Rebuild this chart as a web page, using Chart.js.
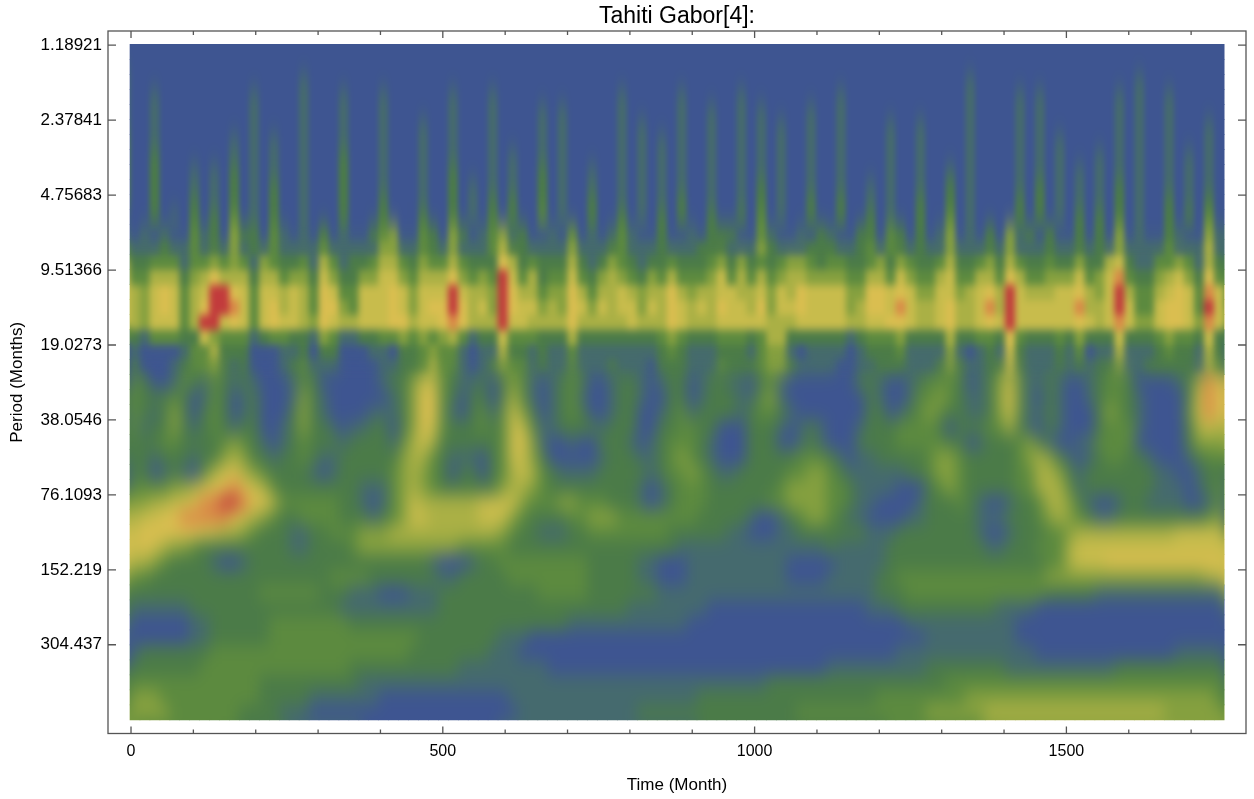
<!DOCTYPE html>
<html>
<head>
<meta charset="utf-8">
<title>Tahiti Gabor[4]</title>
<script src="https://cdn.jsdelivr.net/npm/chart.js@4"></script>
<style>
  html, body { margin: 0; padding: 0; background: #fff; }
  #wrap { width: 1254px; height: 799px; }
  #blurDefs { position: absolute; width: 0; height: 0; }
</style>
</head>
<body>
<svg id="blurDefs">
  <filter id="fineBlur" x="0" y="0" width="100%" height="100%" filterUnits="userSpaceOnUse" color-interpolation-filters="sRGB"><feGaussianBlur stdDeviation="3 4.5"/></filter>
  <filter id="coarseBlur" x="0" y="0" width="100%" height="100%" filterUnits="userSpaceOnUse" color-interpolation-filters="sRGB"><feGaussianBlur stdDeviation="7 9"/></filter>
  <filter id="spikeBlur" x="0" y="0" width="100%" height="100%" filterUnits="userSpaceOnUse" color-interpolation-filters="sRGB"><feGaussianBlur stdDeviation="2.5 11"/></filter>
</svg>
<div id="wrap"><canvas id="myChart" width="1254" height="799"></canvas></div>
<script>
var chartTitle = "Tahiti Gabor[4]:";
var xTitle = "Time (Month)";
var yTitle = "Period (Months)";

var timeTicks = [0, 500, 1000, 1500];
var timeMinorTicks = [100, 200, 300, 400, 600, 700, 800, 900, 1100, 1200, 1300, 1400, 1600, 1700];
var periodTicks = [1.18921, 2.37841, 4.75683, 9.51366, 19.0273, 38.0546, 76.1093, 152.219, 304.437];

// colour levels of the scalogram, low to high
var levelColors = ["#3E5591", "#456A6E", "#4B7B48", "#5C8A3F", "#85A03F", "#AAB045", "#C8BC4C", "#DABE50", "#D98A47", "#C23B3C"];

// power level, one string per period row (top to bottom),
// one digit per time column, grouped by ten
var powerRows = [
  "0000000000 0000000000 0000000000 0000000000 0000000000 0000000000 0000000000 0000000000 0000000000 0000000000 0000000000",
  "0000000000 0000000000 0000000000 0000000000 0000000000 0000000000 0000000000 0000000000 0000000000 0000000000 0000000000",
  "0000000000 0000000100 0000000000 0000000000 0000000000 0000000000 0000000000 0000000000 0000100000 0000000000 0100000000",
  "0010000000 0010000100 0100010000 0010001000 0000000001 0000010000 0100000000 0100000000 0000100001 0100000001 0100100000",
  "0010000000 0010000100 0100010000 0010001000 0101000001 0000010010 0101000010 0100000000 0000100001 0100000001 0100100000",
  "0010000000 0010000100 0100010001 0010001000 0101000001 0100010010 0101010010 0100001001 0000100001 0100000001 0100100010",
  "0010000000 1010100100 0100010001 0010001000 0101000001 0101010010 0101010010 0100001001 0000100001 0101000001 0100100010",
  "0020000000 1010100100 0200010001 0010001010 0101000001 0101010010 0101010010 0100001001 0000100001 0101000101 0100101010",
  "0020001010 2010100100 0200010001 0020001010 0201001001 0101010010 0101010010 0100001001 0010100001 0101010101 0100101010",
  "0020001010 2010200100 0200010001 0020101010 0201001001 0101010010 0102010010 0100101001 0020100001 0201010102 0100101010",
  "0020002010 2010200100 0200020001 0020102020 0201002001 0101020010 0102010020 0200101002 0020100002 0201010102 0100201020",
  "0020102020 3010200100 0200020002 0020102020 0301002002 0102020020 0203010020 0200201002 0030100002 0201020202 0100202030",
  "0101003120 4220310102 0100234003 2042013412 0010301013 1002001022 2003100102 1002203202 0140102041 2020020204 0100210041",
  "1112113121 4121311113 1111144113 2141113522 1111411123 1112111222 1114211122 2112313212 1141112141 1121121214 1111311151",
  "2233313343 4314322315 3122355324 3353222752 3222521243 2122322234 2423234432 3322342432 2352234253 2232242256 2113343152",
  "3355524575 5525534426 4224466435 5574343963 5233632454 3243533346 3535345544 4433553643 3563355375 3344463468 3224564273",
  "5467635699 7636656537 6336667646 6696554975 5344753556 5455754556 6556465766 6644776764 4664567596 5556675469 5335676386",
  "5467635799 8636756537 7436667646 7797564976 6454764656 6465765657 6657466766 6645776865 5675568596 6666685569 6336776396",
  "5466635996 7636766547 6556667756 6787555966 5555755555 6555765556 6666555666 6655667765 5675567696 6666676568 6446776486",
  "2133322643 3312332214 3112233434 3453122633 3222522222 2223432223 3323552222 2212333422 2252233273 2223242226 2223433262",
  "1000013352 2200011202 2000110223 4331011522 1211311111 1112321112 2213441011 1101222311 1141012162 1112130115 1112322152",
  "2000123342 1200012311 1000011223 5331012433 1211311121 1102221113 2223442111 1001122211 1242112262 1112121224 1122222153",
  "3200132132 1210001320 0000012246 6321120243 1012320012 2101220122 1102310000 0002210012 3332012463 1121001233 2000012587",
  "3222320132 0120001421 0000001247 7320220253 1012310012 2100220122 2113410000 0000210013 3432112473 1021001233 2100002687",
  "3212420232 0120002421 0000111247 7310231364 2012320012 2001231222 2123321000 0000220123 4322112463 1121000243 2100003687",
  "3122421232 1220012422 1011220247 6322232366 3112222122 2002233220 0022210121 0001222333 3202223352 1021000233 3100002565",
  "2223322223 4321012322 2122221356 5222222367 4100100222 1012333210 0022200121 0002222333 3322012223 4210011333 3000002444",
  "2212221224 5422122321 1222222455 3211102366 4200000122 2112343210 0022222333 2101122222 3443222223 4542101233 2210001233",
  "2201210356 7543222210 1222223454 3202202356 5321111222 2212334321 1222223344 3211111122 3443222223 3554212222 2221100122",
  "3333445677 8765322222 2221113454 3222222455 4322222222 2101233322 2222234444 3321111000 2343222223 3555312222 2221110123",
  "4455667889 9877533333 3221013465 5555566664 3334433322 2101233322 2222334444 3321100001 2223210012 2355421001 2211110013",
  "5667788888 7654322333 3222123466 5555566643 2222334443 3333333222 2210012344 3211000011 2222211122 2345432112 2222222234",
  "6777777665 5432221122 3334445555 5555555432 2111223333 3333222222 1100011222 2222111222 2222210012 2233455555 5555566666",
  "6765443222 2222221122 2234444444 4443333322 2222222222 2222211111 1111111111 2111112222 2222221122 2333566666 6666666666",
  "5543222210 0122222222 2222222222 1000122333 3333332222 2110001111 1111110000 0111112222 2222222222 2233566677 7777777777",
  "3322222222 2222222222 3333222222 2112222233 3333332222 2110001111 1111110000 1111122333 3333333333 3344444444 4444444455",
  "2222222222 2223333332 2211100011 1222222222 2333332222 2221111111 1111111111 1111122233 3333333333 3322222111 1111111111",
  "1111112222 2222222222 2111111111 1222222222 2222222222 1111111100 0000000000 0000111222 2222222111 1000000000 0000000000",
  "0000001122 2222333333 3322222222 2222222222 2222111111 1111110000 0000000000 0000000011 1111111110 0000000000 0000000000",
  "0000001122 2222333333 3333333332 2222222111 0000000000 0000000000 0000000000 0000000000 1111111110 0000000000 0000000000",
  "1222222233 3333333333 3333333322 2222221110 0000000000 0000000000 0000000000 0000000111 1111111111 1000000000 0000011111",
  "2222222333 3333333333 3322222222 2221111111 1100000000 0000000000 0000000000 1111111111 2222222211 1111111112 2222222222",
  "3333333333 3332222222 2221111111 1111111111 1111111111 1111111111 1111222222 2222222222 2233333333 3333333333 3333333333",
  "4443333333 3332222211 1111100000 0000000011 1111111111 1111111222 2222222222 2222233333 3333444444 4444444444 4444444443",
  "4444333333 3222211100 0000000000 0000000001 1111111111 1222222222 2222222333 3333333333 4444445555 5555555555 5555444444"
];

// edges of the picture in data units
var timeStart = -1.6;
var timeEnd = 1753;
var periodStart = 1.18;
var periodEnd = 610;

// the frame sits a bit outside the picture
var timeMin = -36.9;
var timeMax = 1788;
var periodMin = 1.18921 * Math.pow(2, -14.2 / 75);
var periodMax = 1.18921 * Math.pow(2, 688.8 / 75);

function rowEdge(r) {
  return periodStart * Math.pow(periodEnd / periodStart, r / powerRows.length);
}

function buildDatasets() {
  var sets = [];
  for (var r = 0; r < powerRows.length; r++) {
    var digits = powerRows[r].replace(/ /g, "");
    var colWidth = (timeEnd - timeStart) / digits.length;
    var cells = [];
    var colors = [];
    for (var c = 0; c < digits.length; c++) {
      cells.push({ x: timeStart + (c + 0.5) * colWidth, y: [rowEdge(r), rowEdge(r + 1)] });
      colors.push(levelColors[Number(digits[c])]);
    }
    sets.push({ data: cells, backgroundColor: colors, borderWidth: 0, borderSkipped: false });
  }
  return sets;
}

// blurred copy of src, kept only where the vertical fade from alphaTop to alphaBottom allows
function blurredLayer(src, filterId, yFrom, yTo, alphaFrom, alphaTo) {
  var out = document.createElement("canvas");
  out.width = src.width;
  out.height = src.height;
  var octx = out.getContext("2d");
  octx.filter = "url(#" + filterId + ")";
  octx.drawImage(src, 0, 0);
  octx.filter = "none";
  var fade = octx.createLinearGradient(0, yFrom, 0, yTo);
  fade.addColorStop(0, "rgba(0,0,0," + alphaFrom + ")");
  fade.addColorStop(1, "rgba(0,0,0," + alphaTo + ")");
  octx.globalCompositeOperation = "destination-in";
  octx.fillStyle = fade;
  octx.fillRect(0, 0, out.width, out.height);
  return out;
}

// soften the cells the way the original interpolates them: long thin spikes on top,
// a fairly sharp ridge band, and much smoother long periods below it
var smoothCells = {
  id: "smoothCells",
  afterDatasetsDraw: function (chart) {
    var x0 = Math.round(chart.scales.x.getPixelForValue(timeStart));
    var x1 = Math.round(chart.scales.x.getPixelForValue(timeEnd));
    var y0 = Math.round(chart.scales.y.getPixelForValue(periodStart));
    var y1 = Math.round(chart.scales.y.getPixelForValue(periodEnd));
    var w = x1 - x0;
    var h = y1 - y0;

    var src = document.createElement("canvas");
    src.width = chart.canvas.width;
    src.height = chart.canvas.height;
    var sctx = src.getContext("2d");
    // stretched copy underneath so the blur does not fade at the edges
    sctx.drawImage(chart.canvas, x0, y0, w, h, x0 - 30, y0 - 30, w + 60, h + 60);
    sctx.drawImage(chart.canvas, x0, y0, w, h, x0, y0, w, h);

    var band = chart.scales.y.getPixelForValue(periodTicks[3]);
    var below = chart.scales.y.getPixelForValue(periodTicks[4]);
    var fine = blurredLayer(src, "fineBlur", 0, 1, 1, 1);
    var spikes = blurredLayer(src, "spikeBlur", band - 45, band - 15, 1, 0);
    var coarse = blurredLayer(src, "coarseBlur", below, below + 35, 0, 1);

    var ctx = chart.ctx;
    ctx.save();
    ctx.beginPath();
    ctx.rect(x0, y0, w, h);
    ctx.clip();
    ctx.drawImage(fine, 0, 0);
    ctx.drawImage(spikes, 0, 0);
    ctx.drawImage(coarse, 0, 0);
    ctx.restore();
  }
};

// Mathematica style frame, ticks point inwards on all four sides
var frameTicks = {
  id: "frameTicks",
  afterDraw: function (chart) {
    var a = chart.chartArea;
    var ctx = chart.ctx;
    var i, p;
    ctx.save();
    ctx.strokeStyle = "#555";
    ctx.lineWidth = 1.3;
    ctx.strokeRect(a.left, a.top, a.right - a.left, a.bottom - a.top);
    ctx.beginPath();
    for (i = 0; i < timeTicks.length; i++) {
      p = chart.scales.x.getPixelForValue(timeTicks[i]);
      ctx.moveTo(p, a.bottom); ctx.lineTo(p, a.bottom - 7);
      ctx.moveTo(p, a.top); ctx.lineTo(p, a.top + 7);
    }
    for (i = 0; i < timeMinorTicks.length; i++) {
      p = chart.scales.x.getPixelForValue(timeMinorTicks[i]);
      ctx.moveTo(p, a.bottom); ctx.lineTo(p, a.bottom - 4);
      ctx.moveTo(p, a.top); ctx.lineTo(p, a.top + 4);
    }
    for (i = 0; i < periodTicks.length; i++) {
      p = chart.scales.y.getPixelForValue(periodTicks[i]);
      ctx.moveTo(a.left, p); ctx.lineTo(a.left + 8, p);
      ctx.moveTo(a.right, p); ctx.lineTo(a.right - 8, p);
    }
    ctx.stroke();
    ctx.restore();
  }
};

var fontFamily = "'Liberation Sans', Arial, sans-serif";

new Chart(document.getElementById("myChart").getContext("2d"), {
  type: "bar",
  data: { datasets: buildDatasets() },
  plugins: [smoothCells, frameTicks],
  options: {
    responsive: false,
    animation: false,
    events: [],
    parsing: { xAxisKey: "x", yAxisKey: "y" },
    layout: { padding: { left: 0, right: 8, top: 0, bottom: 0 } },
    datasets: { bar: { barPercentage: 1, categoryPercentage: 1, grouped: false } },
    plugins: {
      legend: { display: false },
      tooltip: { enabled: false },
      title: {
        display: true,
        text: chartTitle,
        fullSize: false,
        color: "#000",
        font: { family: fontFamily, size: 23, weight: "normal", lineHeight: 1 },
        padding: { top: 5.5, bottom: 2.5 }
      }
    },
    scales: {
      x: {
        type: "linear",
        offset: false,
        min: timeMin,
        max: timeMax,
        grid: { display: false, offset: false, drawTicks: false },
        border: { display: false },
        afterBuildTicks: function (scale) {
          scale.ticks = timeTicks.map(function (v) { return { value: v }; });
        },
        afterFit: function (scale) { scale.height = 65.5; },
        ticks: {
          autoSkip: false,
          maxRotation: 0,
          padding: 8,
          color: "#000",
          font: { family: fontFamily, size: 16 },
          callback: function (v) { return String(v); }
        },
        title: { display: true, text: xTitle, color: "#000", font: { family: fontFamily, size: 17 }, padding: { top: 10, bottom: 3 } }
      },
      y: {
        type: "logarithmic",
        reverse: true,
        min: periodMin,
        max: periodMax,
        grid: { display: false, drawTicks: false },
        border: { display: false },
        afterBuildTicks: function (scale) {
          scale.ticks = periodTicks.map(function (v) { return { value: v }; });
        },
        afterFit: function (scale) { scale.width = 108; },
        ticks: {
          autoSkip: false,
          padding: 6,
          color: "#000",
          font: { family: fontFamily, size: 17 },
          callback: function (v) { return String(v); }
        },
        title: { display: true, text: yTitle, color: "#000", font: { family: fontFamily, size: 17 }, padding: { top: 7, bottom: 0 } }
      }
    }
  }
});
</script>
</body>
</html>
